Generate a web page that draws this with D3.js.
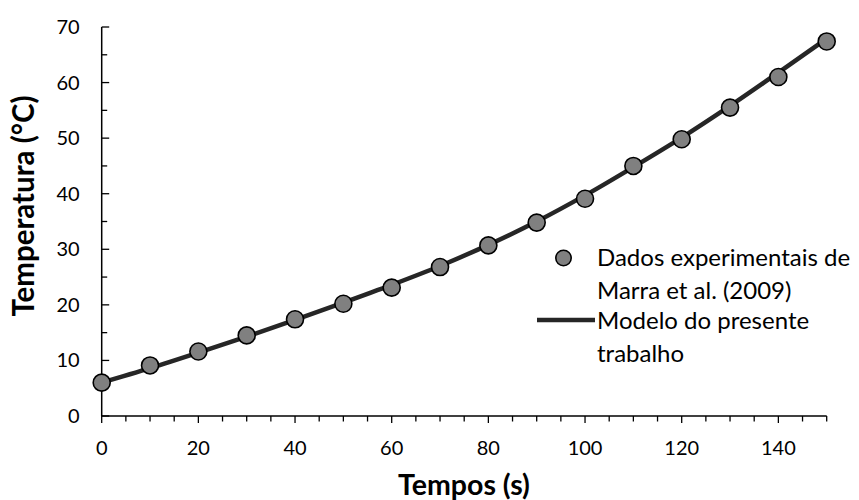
<!DOCTYPE html>
<html>
<head>
<meta charset="utf-8">
<script src="https://cdn.jsdelivr.net/npm/d3@7"></script>
<style>
  html, body { margin: 0; padding: 0; background: #fff; }
  svg { display: block; }
  text { font-family: Lato, "Open Sans", sans-serif; fill: #000; }
</style>
</head>
<body>
<svg id="chart" width="859" height="500"></svg>
<script>
// Time (s) of each experimental reading
const tempos = [0, 10, 20, 30, 40, 50, 60, 70, 80, 90, 100, 110, 120, 130, 140, 150];
// Experimental temperatures, Marra et al. (2009)
const dadosExperimentais = [6.0, 9.1, 11.6, 14.5, 17.4, 20.2, 23.1, 26.8, 30.7, 34.8, 39.1, 45.0, 49.8, 55.5, 61.0, 67.4];
// Model prediction at the same times
const modelo = [6.0, 8.6, 11.4, 14.3, 17.3, 20.4, 23.6, 27.0, 30.8, 35.0, 39.7, 44.8, 50.1, 55.8, 61.8, 67.9];

const xMajorTicks = [0, 20, 40, 60, 80, 100, 120, 140];
const yMajorTicks = [0, 10, 20, 30, 40, 50, 60, 70];

const legendLabels = [
  ["Dados experimentais de", "Marra et al. (2009)"],
  ["Modelo do presente", "trabalho"]
];

const svg = d3.select("#chart");

const x = d3.scaleLinear().domain([0, 150]).range([101.7, 826.7]);
const y = d3.scaleLinear().domain([0, 70]).range([416, 27]);

const axisColor = "#000";
const lineColor = "#262626";
const pointFill = "#808080";

// Minor ticks every 5 units
const xMinor = d3.range(0, 151, 5);
const yMinor = d3.range(0, 71, 5);

// X axis: ticks pointing outward (down)
const gx = svg.append("g").attr("transform", `translate(0,${y(0)})`);
gx.append("line").attr("x1", x(0)).attr("x2", x(150)).attr("stroke", axisColor).attr("stroke-width", 1.5);
gx.selectAll("line.minor").data(xMinor).join("line")
  .attr("class", "minor")
  .attr("x1", d => x(d)).attr("x2", d => x(d))
  .attr("y1", 0).attr("y2", d => d % 20 === 0 ? 7 : 5.5)
  .attr("stroke", axisColor).attr("stroke-width", 1.3);
gx.selectAll("text").data(xMajorTicks).join("text")
  .attr("x", d => x(d)).attr("y", 39)
  .attr("text-anchor", "middle")
  .attr("font-size", 20)
  .text(d => d);

// Y axis: ticks pointing inward (right)
const gy = svg.append("g").attr("transform", `translate(${x(0)},0)`);
gy.append("line").attr("y1", y(0)).attr("y2", y(70)).attr("stroke", axisColor).attr("stroke-width", 1.5);
gy.selectAll("line.minor").data(yMinor).join("line")
  .attr("class", "minor")
  .attr("y1", d => y(d)).attr("y2", d => y(d))
  .attr("x1", 0).attr("x2", d => d % 10 === 0 ? 7.5 : 5.5)
  .attr("stroke", axisColor).attr("stroke-width", 1.3);
gy.selectAll("text").data(yMajorTicks).join("text")
  .attr("x", -22).attr("y", d => y(d))
  .attr("dy", "0.35em")
  .attr("text-anchor", "end")
  .attr("font-size", 20)
  .text(d => d);

// Axis titles
svg.append("text")
  .attr("x", 464).attr("y", 495)
  .attr("text-anchor", "middle")
  .attr("font-size", 28.5).attr("font-weight", "bold")
  .text("Tempos (s)");

svg.append("text")
  .attr("transform", "translate(34,206) rotate(-90)")
  .attr("text-anchor", "middle")
  .attr("font-size", 29.5).attr("font-weight", "bold")
  .text("Temperatura (°C)");

// Model curve
const lineGen = d3.line()
  .x((d, i) => x(tempos[i]))
  .y(d => y(d))
  .curve(d3.curveMonotoneX);

svg.append("path")
  .datum(modelo)
  .attr("d", lineGen)
  .attr("fill", "none")
  .attr("stroke", lineColor)
  .attr("stroke-width", 4.5)
  .attr("stroke-linejoin", "round");

// Experimental points
svg.selectAll("circle.ponto").data(dadosExperimentais).join("circle")
  .attr("class", "ponto")
  .attr("cx", (d, i) => x(tempos[i]))
  .attr("cy", d => y(d))
  .attr("r", 8.5)
  .attr("fill", pointFill)
  .attr("stroke", "#000")
  .attr("stroke-width", 1.6);

// Legend
const legend = svg.append("g");
legend.append("circle")
  .attr("cx", 563.5).attr("cy", 258).attr("r", 7.7)
  .attr("fill", pointFill).attr("stroke", "#000").attr("stroke-width", 1.6);
legend.append("line")
  .attr("x1", 537).attr("x2", 595).attr("y1", 320).attr("y2", 320)
  .attr("stroke", lineColor).attr("stroke-width", 4.5);

const legendY = [[266, 299], [329, 362]];
legendLabels.forEach((lines, k) => {
  lines.forEach((t, j) => {
    legend.append("text")
      .attr("x", 597).attr("y", legendY[k][j])
      .attr("font-size", 24)
      .text(t);
  });
});
</script>
</body>
</html>
